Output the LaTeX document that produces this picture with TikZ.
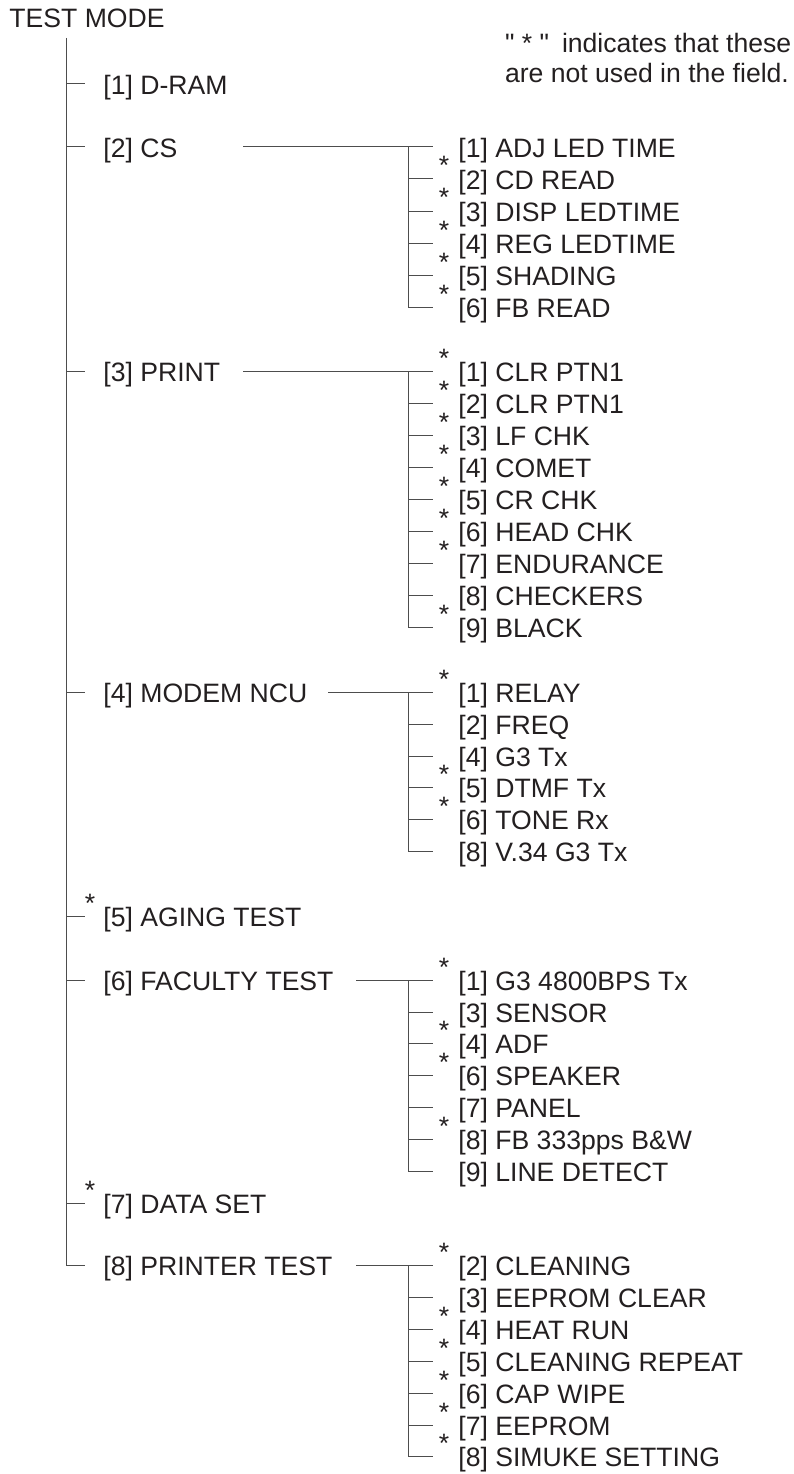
\documentclass[tikz,border=0pt]{standalone}
\usepackage{fontspec}
\setmainfont{Liberation Sans}
\newfontfamily\notefont{Liberation Sans}[Ligatures=TeXOff]
\definecolor{ink}{HTML}{231F20}
\definecolor{wirecol}{HTML}{4D4D4D}
\tikzset{
  every node/.style={inner sep=0pt, outer sep=0pt, text=ink, font=\fontsize{26.6}{30}\selectfont},
  lbl/.style={anchor=base west},
  astx/.style={anchor=base},
  wire/.style={draw=wirecol, line width=1pt},
}
\newcommand\subtree[2]{%
  \foreach \yy/\txt/\st [count=\i] in {#2} {
    \coordinate (#1v\i) at (408,\yy);
    \coordinate (#1e\i) at (433,\yy);
    \node[lbl] (#1\i) at (458.4,\yy+10.5) {\txt};
    \ifnum\st=1 \node[astx] (#1s\i) at (444,\yy-4) {*};\fi
    \draw[wire] (#1v\i) -- (#1e\i);
  }
}
\begin{document}
\begin{tikzpicture}[x=1pt,y=-1pt]
\useasboundingbox (0,0) rectangle (794,1474);

% title and note
\node[lbl] (root) at (9.4,27.3) {TEST MODE};
\node[lbl] (note1) at (505,53) {\notefont "\ *\ "\hspace{13pt}indicates that these};
\node[lbl] (note2) at (505,83) {are not used in the field.};

% main trunk
\coordinate (trTop) at (66,38);
\coordinate (trBot) at (66,1265);
\foreach \yy/\txt/\st [count=\i] in {84/{[1] D-RAM}/0,147/{[2] CS}/0,371/{[3] PRINT}/0,692/{[4] MODEM NCU}/0,916/{[5] AGING TEST}/1,980/{[6] FACULTY TEST}/0,1203/{[7] DATA SET}/1,1265/{[8] PRINTER TEST}/0} {
  \coordinate (mt\i) at (66,\yy);
  \coordinate (me\i) at (85,\yy);
  \node[lbl] (m\i) at (103.4,\yy+10.5) {\txt};
  \ifnum\st=1 \node[astx] (ms\i) at (90,\yy-4) {*};\fi
  \draw[wire] (mt\i) -- (me\i);
}
\draw[wire] (trTop) -- (trBot);

% sub-trees
\subtree{cs}{147/{[1] ADJ LED TIME}/0, 179/{[2] CD READ}/1, 211/{[3] DISP LEDTIME}/1,
  243/{[4] REG LEDTIME}/1, 275/{[5] SHADING}/1, 307/{[6] FB READ}/1}
\subtree{pr}{371/{[1] CLR PTN1}/1, 403/{[2] CLR PTN1}/1, 435/{[3] LF CHK}/1,
  467/{[4] COMET}/1, 499/{[5] CR CHK}/1, 531/{[6] HEAD CHK}/1,
  563/{[7] ENDURANCE}/1, 595/{[8] CHECKERS}/0, 627/{[9] BLACK}/1}
\subtree{md}{692/{[1] RELAY}/1, 724/{[2] FREQ}/0, 756/{[4] G3 Tx}/0,
  787/{[5] DTMF Tx}/1, 819/{[6] TONE Rx}/1, 851/{[8] V.34 G3 Tx}/0}
\subtree{fa}{980/{[1] G3 4800BPS Tx}/1, 1012/{[3] SENSOR}/0, 1043/{[4] ADF}/1,
  1075/{[6] SPEAKER}/1, 1107/{[7] PANEL}/0, 1139/{[8] FB 333pps B\&W}/1,
  1171/{[9] LINE DETECT}/0}
\subtree{pt}{1265/{[2] CLEANING}/1, 1297/{[3] EEPROM CLEAR}/0, 1329/{[4] HEAT RUN}/1,
  1361/{[5] CLEANING REPEAT}/1, 1393/{[6] CAP WIPE}/1, 1425/{[7] EEPROM}/1,
  1456/{[8] SIMUKE SETTING}/1}

% hub verticals
\draw[wire] (csv1) -- (csv6);
\draw[wire] (prv1) -- (prv9);
\draw[wire] (mdv1) -- (mdv6);
\draw[wire] (fav1) -- (fav7);
\draw[wire] (ptv1) -- (ptv7);

% connectors from parents to hubs
\coordinate (csC) at (243,147);
\coordinate (prC) at (243,371);
\coordinate (mdC) at (328,692);
\coordinate (faC) at (356,980);
\coordinate (ptC) at (356,1265);
\draw[wire] (csC) -- (csv1);
\draw[wire] (prC) -- (prv1);
\draw[wire] (mdC) -- (mdv1);
\draw[wire] (faC) -- (fav1);
\draw[wire] (ptC) -- (ptv1);
\end{tikzpicture}
\end{document}
